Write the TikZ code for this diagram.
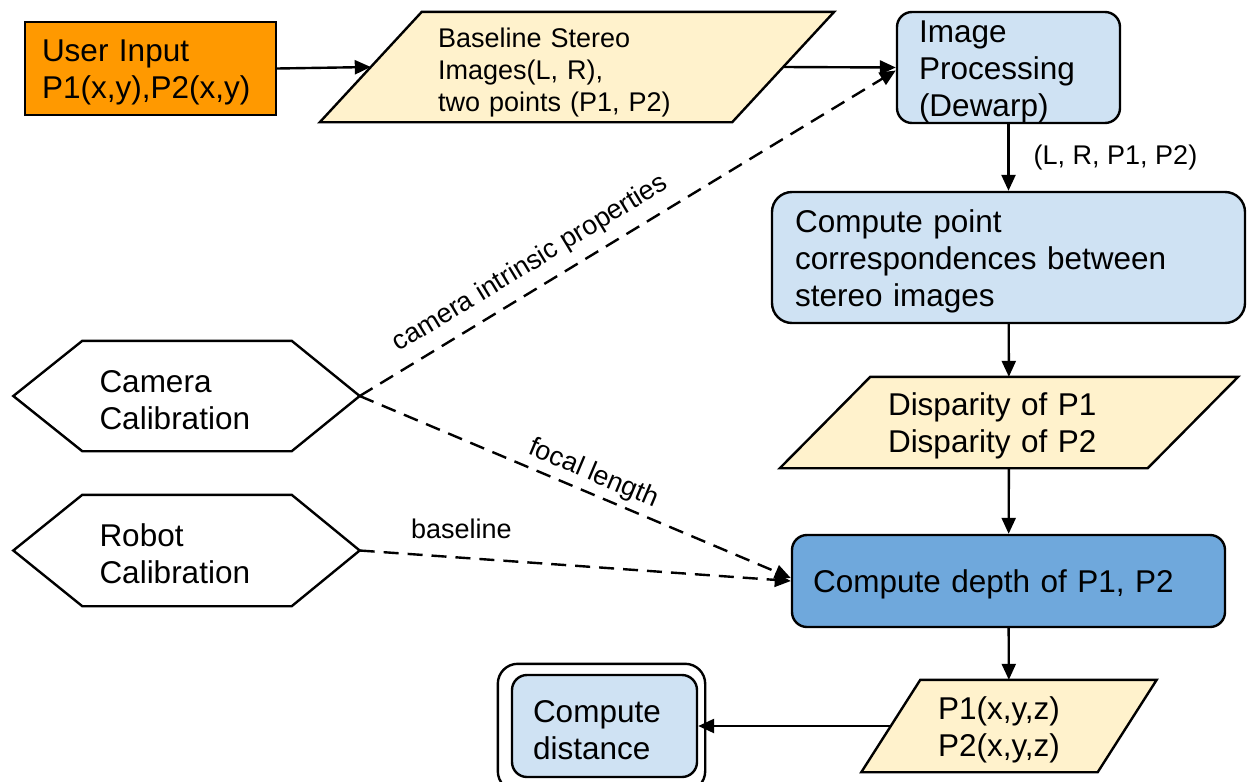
\documentclass[tikz,border=0pt]{standalone}
\usepackage{fontspec}
\setmainfont{Liberation Sans}
\usetikzlibrary{arrows.meta,calc}
\pgfdeclarelayer{bg}
\pgfsetlayers{bg,main}
\newcommand\bigtxt{\fontsize{31.5pt}{37pt}\selectfont}
\newcommand\smalltxt{\fontsize{27pt}{32pt}\selectfont}
\definecolor{uiorange}{HTML}{FF9900}
\definecolor{parayellow}{HTML}{FFF2CC}
\definecolor{lightblue}{HTML}{CFE2F3}
\definecolor{midblue}{HTML}{6FA8DC}
\begin{document}
\begin{tikzpicture}[x=1pt,y=-1pt,
  every node/.style={text=black},
  txtdown/.style={execute at begin node={\rule{0pt}{#1}}},
  box/.style={draw=black, line width=2.4pt, align=left, font=\bigtxt, inner ysep=0pt, txtdown=30pt},
  procbox/.style={box, fill=lightblue, rounded corners=15pt},
  body/.style={draw=none, align=left, inner ysep=0pt, txtdown=30pt},
  outline/.style={draw=black, line width=2.4pt},
  paraout/.style={outline, fill=parayellow},
  arr/.style={line width=2.4pt, -{Triangle[length=16pt,width=14pt]}},
  darr/.style={arr, dash pattern=on 15pt off 9pt},
  lbl/.style={font=\smalltxt, inner sep=0pt}
]
\useasboundingbox (0,0) rectangle (1251,782);

\node[box, fill=uiorange, text width=217pt, inner xsep=17pt, minimum height=93pt] (ui) at (150.5,68.5) {User Input\\P1(x,y),P2(x,y)};
\node[body, font=\smalltxt, txtdown=26pt, text width=278pt, inner xsep=16pt, minimum height=110pt] (bsi) at (577,67) {Baseline Stereo\\Images(L, R),\\two points (P1, P2)};
\node[procbox, text width=179pt, inner xsep=22pt, minimum height=111pt] (ip) at (1008.5,67.5) {Image\\Processing\\(Dewarp)};
\node[procbox, rounded corners=20pt, text width=427pt, inner xsep=23pt, minimum height=131pt] (cp) at (1008.5,257.5) {Compute point\\correspondences between\\stereo images};
\node[body, font=\bigtxt, text width=242pt, inner xsep=17.5pt, minimum height=91pt] (disp) at (1009,422.5) {Disparity of P1\\Disparity of P2};
\node[procbox, fill=midblue, text width=391pt, inner xsep=21pt, minimum height=92pt] (depth) at (1008.5,581) {Compute depth of P1, P2};
\node[body, font=\bigtxt, text width=142pt, inner xsep=17.5pt, minimum height=92pt] (pxyz) at (1009,726) {P1(x,y,z)\\P2(x,y,z)};
\node[procbox, txtdown=27pt, text width=143pt, inner xsep=21pt, minimum height=102pt] (dist) at (604.5,726) {Compute\\distance};
\node[body, font=\bigtxt, txtdown=23pt, text width=175pt, inner xsep=17pt, minimum height=110pt] (cam) at (187,396) {Camera\\Calibration};
\node[body, font=\bigtxt, txtdown=23pt, text width=175pt, inner xsep=17pt, minimum height=111pt] (rob) at (187,550.5) {Robot\\Calibration};

\coordinate (bsiW) at ($(bsi.west)+(-51,0)$);
\coordinate (bsiE) at ($(bsi.east)+(51,0)$);
\coordinate (pxyzW) at ($(pxyz.west)+(-29.5,0)$);
\coordinate (camR) at ($(cam.east)+(68,0)$);
\coordinate (camL) at ($(cam.west)+(-69,0)$);
\coordinate (robR) at ($(rob.east)+(68,0)$);
\coordinate (robL) at ($(rob.west)+(-69,0)$);

\begin{pgfonlayer}{bg}
\draw[paraout] ($(bsi.south west)+(-102,0)$) -- (bsi.north west) -- ($(bsi.north east)+(102,0)$) -- (bsi.south east) -- cycle;
\draw[paraout] ($(disp.south west)+(-90.5,0)$) -- (disp.north west) -- ($(disp.north east)+(90.5,0)$) -- (disp.south east) -- cycle;
\draw[paraout] ($(pxyz.south west)+(-59,0)$) -- (pxyz.north west) -- ($(pxyz.north east)+(59,0)$) -- (pxyz.south east) -- cycle;
\draw[outline] (cam.north west) -- (cam.north east) -- (camR) -- (cam.south east) -- (cam.south west) -- (camL) -- cycle;
\draw[outline] (rob.north west) -- (rob.north east) -- (robR) -- (rob.south east) -- (rob.south west) -- (robL) -- cycle;
\draw[outline, rounded corners=20pt] ($(dist.south west)+(-13,13)$) rectangle ($(dist.north east)+(7,-10)$);
\end{pgfonlayer}

\draw[arr] (ui.east) -- (bsiW);
\draw[arr] (bsiE) -- (ip.west);
\draw[arr] (ip) -- node[lbl, right=24pt]{(L, R, P1, P2)} (cp);
\draw[arr] (cp) -- (disp);
\draw[arr] (disp) -- (depth);
\draw[arr] (depth) -- (pxyz);
\draw[arr] (pxyzW) -- (dist.east);
\draw[darr] (camR) -- node[lbl, sloped, above=10.6pt, pos=0.342]{camera intrinsic properties} ([yshift=-3pt]ip.west);
\draw[darr] (camR) -- node[lbl, sloped, above=5pt, pos=0.525]{focal length} ([yshift=3pt]depth.west);
\draw[darr] (robR) -- node[lbl, above=18pt, pos=0.236]{baseline} (depth.west);
\end{tikzpicture}
\end{document}
